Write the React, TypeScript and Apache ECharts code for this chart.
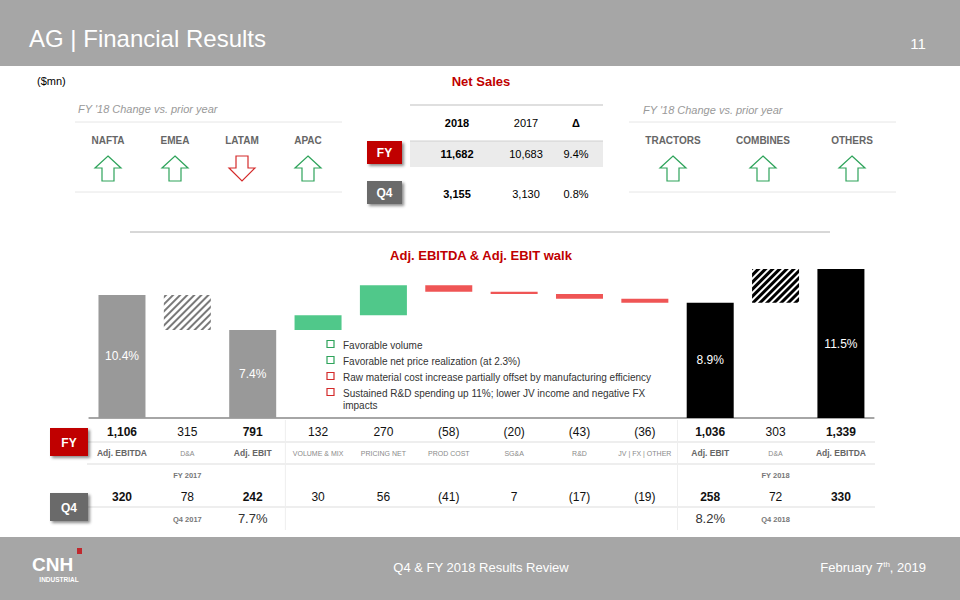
import React, { useEffect, useRef } from 'react';
import * as echarts from 'echarts';

// ---------- data ----------
const categories = ['Adj. EBITDA', 'D&A', 'Adj. EBIT', 'VOLUME & MIX', 'PRICING NET', 'PROD COST', 'SG&A', 'R&D', 'JV | FX | OTHER', 'Adj. EBIT', 'D&A', 'Adj. EBITDA'];
const stepKinds = ['total', 'down', 'total', 'delta', 'delta', 'delta', 'delta', 'delta', 'delta', 'total', 'up', 'total'];
const fyValues = [1106, 315, 791, 132, 270, -58, -20, -43, -36, 1036, 303, 1339];
const q4Values = [320, 78, 242, 30, 56, -41, 7, -17, -19, 258, 72, 330];
const fyMargins = ['10.4%', '', '7.4%', '', '', '', '', '', '', '8.9%', '', '11.5%'];
const q4Margins = ['', '', '7.7%', '', '', '', '', '', '', '8.2%', '', ''];
const fyPeriods = ['', 'FY 2017', '', '', '', '', '', '', '', '', 'FY 2018', ''];
const q4Periods = ['', 'Q4 2017', '', '', '', '', '', '', '', '', 'Q4 2018', ''];

const netSalesHeaders = ['2018', '2017', 'Δ'];
const netSalesFY = ['11,682', '10,683', '9.4%'];
const netSalesQ4 = ['3,155', '3,130', '0.8%'];

const regions = ['NAFTA', 'EMEA', 'LATAM', 'APAC'];
const regionTrend = ['up', 'up', 'down', 'up'];
const products = ['TRACTORS', 'COMBINES', 'OTHERS'];
const productTrend = ['up', 'up', 'up'];

const commentary = [
  'Favorable volume',
  'Favorable net price realization (at 2.3%)',
  'Raw material cost increase partially offset by manufacturing efficiency',
  'Sustained R&D spending up 11%; lower JV income and negative FX\nimpacts',
];
const commentaryTone = ['pos', 'pos', 'neg', 'neg'];

// ---------- styles ----------
const FONT = '"Liberation Sans", Arial, Helvetica, sans-serif';
const GRAY_BAND = '#a6a6a6';
const RED_TITLE = '#c00000';
const GREEN = '#50c88a';
const RED = '#ef5555';
const ARROW_GREEN = '#2ea35a';
const ARROW_RED = '#d42a2a';

function fmt(v: number) {
  const s = Math.abs(v).toLocaleString('en-US');
  return v < 0 ? `(${s})` : s;
}

export default function App() {
  const ref = useRef<HTMLDivElement>(null);

  useEffect(() => {
    if (!ref.current) return;
    const chart = echarts.init(ref.current, undefined, { renderer: 'svg' });

    // waterfall decomposition
    const n = categories.length;
    const base: any[] = [];
    const grayTot: any[] = [];
    const blackTot: any[] = [];
    const grayHatch: any[] = [];
    const blackHatch: any[] = [];
    const green: any[] = [];
    const red: any[] = [];
    let cum = 0;
    for (let i = 0; i < n; i++) {
      const k = stepKinds[i];
      const v = fyValues[i];
      [grayTot, blackTot, grayHatch, blackHatch, green, red].forEach((a) => a.push('-'));
      if (k === 'total') {
        base.push(0);
        if (i < n / 2) grayTot[i] = v; else blackTot[i] = v;
        cum = v;
      } else if (k === 'down') {
        base.push(cum - v);
        grayHatch[i] = v;
        cum -= v;
      } else if (k === 'up') {
        base.push(cum);
        blackHatch[i] = v;
        cum += v;
      } else {
        if (v >= 0) { base.push(cum); green[i] = v; }
        else { base.push(cum + v); red[i] = -v; }
        cum += v;
      }
    }

    const barW = 47;
    const common = { type: 'bar', stack: 'w', barWidth: barW, silent: true, emphasis: { disabled: true } };
    const marginLabel = {
      show: true, position: 'inside', color: '#fff', fontSize: 12, fontFamily: FONT,
      formatter: (p: any) => fyMargins[p.dataIndex],
    };

    chart.setOption({
      animation: false,
      grid: { left: 89.3, right: 86.4, top: 240, bottom: 182 },
      xAxis: {
        type: 'category', data: categories,
        axisLine: { lineStyle: { color: '#a6a6a6', width: 2 } },
        axisTick: { show: false }, axisLabel: { show: false }, splitLine: { show: false },
      },
      yAxis: { type: 'value', min: 0, max: 1600, show: false },
      series: [
        { ...common, name: 'base', data: base, itemStyle: { color: 'rgba(0,0,0,0)' } },
        { ...common, name: 'gray', data: grayTot, itemStyle: { color: '#999999' }, label: marginLabel },
        { ...common, name: 'black', data: blackTot, itemStyle: { color: '#000000' }, label: marginLabel },
        {
          ...common, name: 'grayHatch', data: grayHatch,
          itemStyle: { color: '#ffffff', decal: { symbol: 'rect', color: '#7a7a7a', backgroundColor: '#ffffff', dashArrayX: [1, 0], dashArrayY: [2, 2.6], rotation: -Math.PI / 4 } },
        },
        {
          ...common, name: 'blackHatch', data: blackHatch,
          itemStyle: { color: '#ffffff', decal: { symbol: 'rect', color: '#000000', backgroundColor: '#ffffff', dashArrayX: [1, 0], dashArrayY: [2.6, 2], rotation: -Math.PI / 4 } },
        },
        { ...common, name: 'green', data: green, itemStyle: { color: GREEN } },
        { ...common, name: 'red', data: red, itemStyle: { color: RED } },
      ],
    });

    const xs = categories.map((_, i) => chart.convertToPixel({ xAxisIndex: 0 }, i) as number);

    const g: any[] = [];
    const txt = (x: number, y: number, text: string, o: any = {}) => ({
      type: 'text', x, y, silent: true,
      style: { text, fontFamily: FONT, fontSize: 11, fill: '#333', align: 'center', verticalAlign: 'middle', ...o },
    });
    const rect = (x: number, y: number, w: number, h: number, style: any) => ({
      type: 'rect', silent: true, shape: { x, y, width: w, height: h }, style,
    });
    const line = (x1: number, y1: number, x2: number, y2: number, stroke: string, lw = 1) => ({
      type: 'line', silent: true, shape: { x1, y1, x2, y2 }, style: { stroke, lineWidth: lw },
    });
    const badge = (x: number, y: number, w: number, h: number, label: string, fill: string) => {
      g.push(rect(x, y, w, h, { fill, shadowBlur: 3, shadowOffsetX: 2, shadowOffsetY: 2, shadowColor: 'rgba(0,0,0,0.45)' }));
      g.push(txt(x + w / 2, y + h / 2 + 0.5, label, { fill: '#fff', fontWeight: 'bold', fontSize: 12 }));
    };
    const arrow = (cx: number, top: number, dir: string) => {
      const pts = dir === 'up'
        ? [[cx, top], [cx + 13, top + 12], [cx + 6, top + 12], [cx + 6, top + 25], [cx - 6, top + 25], [cx - 6, top + 12], [cx - 13, top + 12]]
        : [[cx - 6, top], [cx + 6, top], [cx + 6, top + 12], [cx + 13, top + 12], [cx, top + 25], [cx - 13, top + 12], [cx - 6, top + 12]];
      g.push({
        type: 'polygon', silent: true, shape: { points: pts },
        style: { fill: '#fff', stroke: dir === 'up' ? ARROW_GREEN : ARROW_RED, lineWidth: 1.2 },
      });
    };

    // header
    g.push(rect(0, 0, 960, 66, { fill: GRAY_BAND }));
    g.push(txt(29, 38, 'AG | Financial Results', { align: 'left', fill: '#fff', fontSize: 24 }));
    g.push(txt(918, 43, '11', { fill: '#fff', fontSize: 15 }));

    // footer
    g.push(rect(0, 537, 960, 63, { fill: GRAY_BAND }));
    g.push(txt(481, 567, 'Q4 & FY 2018 Results Review', { fill: '#fff', fontSize: 13 }));
    g.push({
      type: 'text', x: 926, y: 567, silent: true,
      style: {
        text: '{a|February 7}{s|th}{a|, 2019}', align: 'right', verticalAlign: 'middle',
        rich: {
          a: { fontFamily: FONT, fontSize: 13, fill: '#fff' },
          s: { fontFamily: FONT, fontSize: 8, fill: '#fff', verticalAlign: 'top' },
        },
      },
    });
    g.push(txt(32, 564, 'CNH', { align: 'left', fill: '#fff', fontSize: 19, fontWeight: 'bold', lineHeight: 17 }));
    g.push(rect(77, 548, 5, 6, { fill: '#c0282d' }));
    g.push(txt(59, 579, 'INDUSTRIAL', { fill: '#fff', fontSize: 6.5, fontWeight: 'bold', lineHeight: 7 }));

    // top left
    g.push(txt(37, 81, '($mn)', { align: 'left', fill: '#000', fontSize: 11 }));
    g.push(txt(78, 109, "FY '18 Change vs. prior year", { align: 'left', fill: '#999', fontSize: 11, fontStyle: 'italic' }));
    g.push(line(75, 122, 342, 122, '#e6e6e6'));
    g.push(line(75, 192, 342, 192, '#e6e6e6'));
    const regionX = [108, 175, 242, 308];
    regions.forEach((r, i) => {
      g.push(txt(regionX[i], 140, r, { fill: '#666', fontSize: 10, fontWeight: 'bold' }));
      arrow(regionX[i], 156, regionTrend[i]);
    });

    // top right
    g.push(txt(643, 110, "FY '18 Change vs. prior year", { align: 'left', fill: '#999', fontSize: 11, fontStyle: 'italic' }));
    g.push(line(629, 122, 896, 122, '#e6e6e6'));
    g.push(line(629, 192, 896, 192, '#e6e6e6'));
    const productX = [673, 763, 852];
    products.forEach((p, i) => {
      g.push(txt(productX[i], 140, p, { fill: '#666', fontSize: 10, fontWeight: 'bold' }));
      arrow(productX[i], 156, productTrend[i]);
    });

    // net sales table
    g.push(txt(481, 81, 'Net Sales', { fill: RED_TITLE, fontSize: 13, fontWeight: 'bold' }));
    g.push(line(410, 105, 603, 105, '#bfbfbf'));
    const colX = [457, 526, 576];
    netSalesHeaders.forEach((h, i) => {
      g.push(txt(colX[i], 123, h, { fill: '#000', fontSize: 11, fontWeight: i === 1 ? 'normal' : 'bold' }));
    });
    g.push(rect(410, 141, 193, 26, { fill: '#ebebeb' }));
    g.push(line(410, 141, 603, 141, '#d0d0d0'));
    badge(367, 141, 35, 23, 'FY', '#c00000');
    badge(367, 181, 35, 23, 'Q4', '#6b6b6b');
    netSalesFY.forEach((v, i) => g.push(txt(colX[i], 154, v, { fill: '#000', fontSize: 11, fontWeight: i === 0 ? 'bold' : 'normal' })));
    netSalesQ4.forEach((v, i) => g.push(txt(colX[i], 194, v, { fill: '#000', fontSize: 11, fontWeight: i === 0 ? 'bold' : 'normal' })));

    // separator and walk title
    g.push(line(130, 232, 830, 232, '#b0b0b0'));
    g.push(txt(481, 255, 'Adj. EBITDA & Adj. EBIT walk', { fill: RED_TITLE, fontSize: 13, fontWeight: 'bold' }));

    // commentary
    const lineY = [344, 360, 376, 392];
    commentary.forEach((c, i) => {
      g.push(rect(327, lineY[i] - 3.5, 7, 7, { fill: '#fff', stroke: commentaryTone[i] === 'pos' ? ARROW_GREEN : ARROW_RED, lineWidth: 1.2 }));
      g.push(txt(343, lineY[i], c, { align: 'left', verticalAlign: 'top', fill: '#333', fontSize: 10, lineHeight: 12.5, padding: [-5, 0, 0, 0] }));
    });

    // rows below the walk
    const left = 87, right = 875;
    g.push(line(left, 442, right, 442, '#dddddd'));
    g.push(line(left, 464, right, 464, '#dddddd'));
    g.push(line(left, 507, right, 507, '#dddddd'));
    const div1 = (xs[2] + xs[3]) / 2;
    const div2 = (xs[8] + xs[9]) / 2;
    g.push(line(div1, 420, div1, 530, '#eeeeee'));
    g.push(line(div2, 420, div2, 530, '#eeeeee'));
    badge(50, 428, 38, 28, 'FY', '#c00000');
    badge(50, 493, 38, 28, 'Q4', '#6b6b6b');

    categories.forEach((c, i) => {
      const isTot = stepKinds[i] === 'total';
      g.push(txt(xs[i], 432, fmt(fyValues[i]), { fill: '#111', fontSize: 12, fontWeight: isTot ? 'bold' : 'normal' }));
      g.push(txt(xs[i], 453, c, isTot
        ? { fill: '#666', fontSize: 8.5, fontWeight: 'bold' }
        : { fill: '#8a8a8a', fontSize: 7 }));
      if (fyPeriods[i]) g.push(txt(xs[i], 475, fyPeriods[i], { fill: '#777', fontSize: 7.5, fontWeight: 'bold' }));
      g.push(txt(xs[i], 497, fmt(q4Values[i]), { fill: '#111', fontSize: 12, fontWeight: isTot ? 'bold' : 'normal' }));
      if (q4Periods[i]) g.push(txt(xs[i], 519, q4Periods[i], { fill: '#777', fontSize: 7.5, fontWeight: 'bold' }));
      if (q4Margins[i]) g.push(txt(xs[i], 518, q4Margins[i], { fill: '#333', fontSize: 13 }));
    });

    chart.setOption({ graphic: g });

    return () => chart.dispose();
  }, []);

  return <div ref={ref} style={{ position: 'absolute', left: 0, top: 0, width: 960, height: 600 }} />;
}
